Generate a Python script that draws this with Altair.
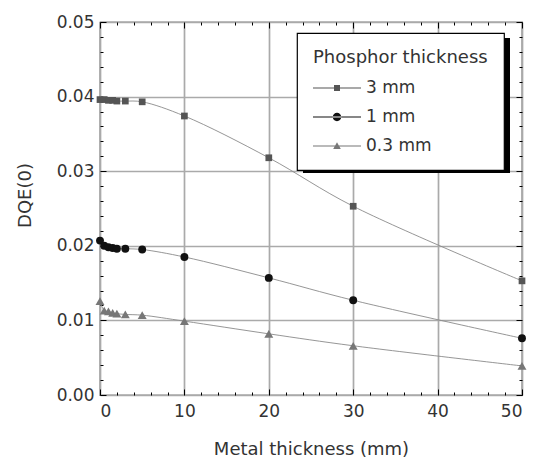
import altair as alt
import pandas as pd

metal = [0, 0.5, 1, 1.5, 2, 3, 5, 10, 20, 30, 50]
dqe_3mm = [0.0396, 0.0396, 0.0395, 0.0395, 0.0394, 0.0394, 0.0393, 0.0374, 0.0318, 0.0253, 0.0153]
dqe_1mm = [0.0207, 0.0200, 0.0198, 0.0197, 0.0196, 0.0196, 0.0195, 0.0185, 0.0157, 0.0127, 0.0076]
dqe_03mm = [0.0126, 0.0113, 0.0112, 0.0110, 0.0109, 0.0108, 0.0107, 0.0099, 0.0082, 0.0066, 0.0039]

series = ["3 mm", "1 mm", "0.3 mm"]
x_ticks = [0, 10, 20, 30, 40, 50]
y_ticks = [0.00, 0.01, 0.02, 0.03, 0.04, 0.05]
x_minor = [2, 4, 6, 8, 12, 14, 16, 18, 22, 24, 26, 28, 32, 34, 36, 38, 42, 44, 46, 48]
y_minor = [0.002, 0.004, 0.006, 0.008, 0.012, 0.014, 0.016, 0.018, 0.022, 0.024,
           0.026, 0.028, 0.032, 0.034, 0.036, 0.038, 0.042, 0.044, 0.046, 0.048]

rows = []
for name, vals in zip(series, [dqe_3mm, dqe_1mm, dqe_03mm]):
    for m, v in zip(metal, vals):
        rows.append({"metal": m, "dqe": v, "series": name, "series2": name})
df = pd.DataFrame(rows)

FONT = "DejaVu Sans"
TXT = "#333333"
xs = alt.Scale(domain=[0, 50], nice=False, zero=False)
ys = alt.Scale(domain=[0, 0.05], nice=False)


def label_axis(orient, values, title, fmt, tpad, lpad, **extra):
    return alt.Axis(orient=orient, values=values, labels=True, grid=True, ticks=False,
                    domain=False, labelFont=FONT, labelFontSize=17, labelColor=TXT,
                    labelPadding=lpad, gridColor="#aaaaaa", gridWidth=1.7,
                    titleFont=FONT, titleFontSize=18, titleFontWeight="normal",
                    titleColor=TXT, titlePadding=tpad, format=fmt, title=title, **extra)


def tick_axis(orient, values, size):
    return alt.Axis(orient=orient, values=values, labels=False, grid=False, ticks=True,
                    domain=False, tickSize=size, offset=-size, tickColor="black",
                    tickWidth=1, title="")


shape_range = ["square", "circle", "triangle-up"]
fill_range = ["#555555", "#111111", "#777777"]

lines = alt.Chart(df).mark_line(interpolate="catmull-rom", color="#8a8a8a", strokeWidth=0.9).encode(
    x=alt.X("metal:Q", scale=xs,
            axis=label_axis("bottom", x_ticks, "Metal thickness (mm)", "d", 21, 8)),
    y=alt.Y("dqe:Q", scale=ys,
            axis=label_axis("left", y_ticks, "DQE(0)", ".2f", 22, 6, titleY=173)),
    detail="series:N",
)

pts = alt.Chart(df).mark_point(filled=True, opacity=1).encode(
    x=alt.X("metal:Q", scale=xs, axis=tick_axis("bottom", x_ticks, 6)),
    y=alt.Y("dqe:Q", scale=ys, axis=tick_axis("left", y_ticks, 6)),
    shape=alt.Shape("series:N", scale=alt.Scale(domain=series, range=shape_range), legend=None),
    color=alt.Color("series:N", scale=alt.Scale(domain=series, range=fill_range), legend=None),
    size=alt.Size("series:N", scale=alt.Scale(domain=series, range=[45, 80, 55]), legend=None),
)

bl_minor = alt.Chart(df).mark_point(opacity=0).encode(
    x=alt.X("metal:Q", scale=xs, axis=tick_axis("bottom", x_minor, 3)),
    y=alt.Y("dqe:Q", scale=ys, axis=tick_axis("left", y_minor, 3)),
)
top_right = alt.Chart(df).mark_point(opacity=0).encode(
    x=alt.X("metal:Q", scale=xs, axis=tick_axis("top", x_ticks, 6)),
    y=alt.Y("dqe:Q", scale=ys, axis=tick_axis("right", y_ticks, 6)),
)
top_right_minor = alt.Chart(df).mark_point(opacity=0).encode(
    x=alt.X("metal:Q", scale=xs, axis=tick_axis("top", x_minor, 3)),
    y=alt.Y("dqe:Q", scale=ys, axis=tick_axis("right", y_minor, 3)),
)

# legend drop shadow (decoration)
shadow = alt.Chart(df).mark_rect(color="black").encode(
    x=alt.value(203), x2=alt.value(410), y=alt.value(16), y2=alt.value(151)
).transform_filter("datum.metal == 0 && datum.series == '3 mm'")

leg_paths = [
    "M-1,-0.05H3.8V0.05H-1Z M1.1,-0.3H1.7V0.3H1.1Z",
    "M-1,-0.05H3.8V0.05H-1Z M0.98,0A0.42,0.42 0 1,0 1.82,0A0.42,0.42 0 1,0 0.98,0Z",
    "M-1,-0.05H3.8V0.05H-1Z M1.4,-0.38L1.78,0.3H1.02Z",
]
leg = alt.Legend(title="Phosphor thickness", orient="none", legendX=197, legendY=11,
                 zindex=2, titleFontWeight="normal", titleFontSize=18, titleFont=FONT,
                 labelFont=FONT, labelFontSize=17, labelColor=TXT, titleColor=TXT,
                 fillColor="white", strokeColor="black", padding=16,
                 symbolSize=400, symbolStrokeWidth=0,
                 symbolOpacity=1, rowPadding=11, labelOffset=33, titlePadding=11)
legend_layer = alt.Chart(df).mark_point(filled=True).encode(
    x=alt.X("metal:Q", scale=xs, axis=None),
    y=alt.Y("dqe:Q", scale=ys, axis=None),
    shape=alt.Shape("series2:N", scale=alt.Scale(domain=series, range=leg_paths), legend=leg),
    color=alt.Color("series2:N", scale=alt.Scale(domain=series, range=fill_range), legend=leg),
).transform_filter("datum.metal < -100")

chart = alt.layer(
    lines, pts, bl_minor, top_right, top_right_minor, shadow, legend_layer
).resolve_scale(shape="independent", color="independent", size="independent").resolve_axis(
    x="independent", y="independent"
).properties(
    width=422, height=373, background="white",
    padding={"left": 92, "top": 14, "right": 5, "bottom": 65},
    autosize=alt.AutoSizeParams(type="none"),
).configure_view(stroke="black", strokeWidth=1.2).configure_legend(strokeWidth=1.2)

chart.save("out.html", embed_options={"renderer": "svg", "actions": False})
